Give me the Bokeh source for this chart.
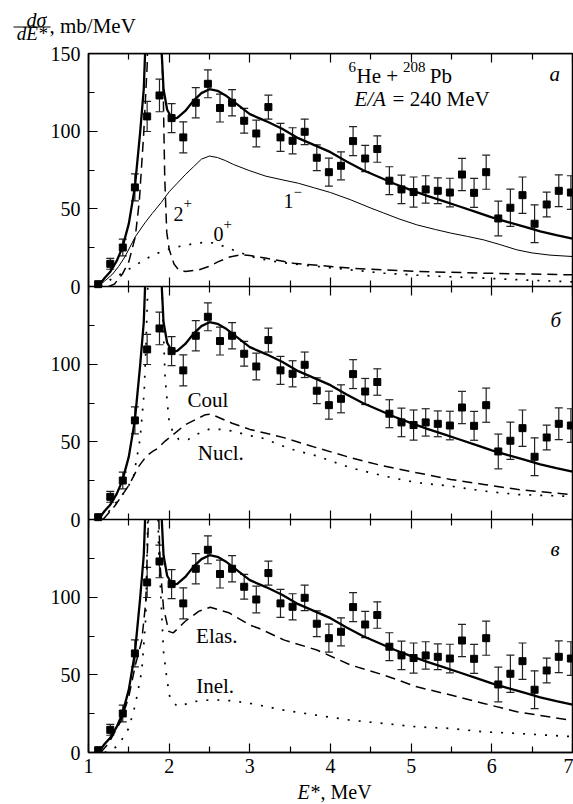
import math

from bokeh.plotting import figure
from bokeh.layouts import column
from bokeh.models import (Range1d, LinearAxis, FixedTicker, Label, ColumnDataSource,
                          Whisker, TeeHead)
from bokeh.core.properties import value
from bokeh.embed import file_html
from bokeh.resources import INLINE

FONT = "Liberation Serif"

# ---- measured cross section (identical in all three panels) ----
energy = [1.12, 1.27, 1.425, 1.575, 1.727, 1.88, 2.03, 2.175, 2.33, 2.48,
          2.63, 2.78, 2.93, 3.08, 3.23, 3.38, 3.53, 3.68, 3.83, 3.98,
          4.13, 4.28, 4.43, 4.58, 4.73, 4.88, 5.03, 5.18, 5.33, 5.48,
          5.63, 5.78, 5.93, 6.08, 6.23, 6.38, 6.53, 6.68, 6.83, 6.98]
xsec = [1.5, 14.6, 25.1, 63.8, 109.5, 123.0, 108.4, 96.0, 118.3, 130.5,
        114.9, 118.3, 106.7, 98.5, 115.5, 96.0, 93.8, 99.6, 82.9, 73.6,
        77.7, 93.6, 82.4, 88.5, 68.1, 62.5, 60.8, 62.5, 61.6, 60.5,
        72.1, 60.3, 73.6, 43.8, 50.7, 58.8, 40.4, 52.8, 61.6, 60.5]
xsec_err = [1.0, 3.5, 5.4, 8.7, 9.7, 10.5, 9.3, 10.0, 9.7, 9.0,
            9.0, 8.5, 8.0, 8.6, 7.7, 9.0, 8.4, 8.2, 8.3, 9.0,
            9.0, 9.3, 8.4, 8.5, 9.0, 9.2, 9.7, 8.8, 8.3, 9.2,
            10.4, 9.3, 11.0, 11.2, 12.0, 11.7, 12.2, 8.0, 10.2, 10.8]

# ---- total calculation (thick solid, all panels) ----
total_e = [1.12, 1.20, 1.27, 1.35, 1.42, 1.50, 1.575, 1.64, 1.685, 1.70, 1.75, 1.80,
           1.86, 1.91, 1.93, 1.975, 2.04, 2.10, 2.20, 2.30, 2.40, 2.50, 2.60, 2.70,
           2.80, 2.90, 3.00, 3.20, 3.40, 3.60, 3.80, 4.00, 4.20, 4.40, 4.60, 4.80,
           5.00, 5.20, 5.40, 5.60, 5.80, 6.00, 6.20, 6.40, 6.60, 6.80, 7.00]
total_y = [0.0, 5.5, 9.5, 16.5, 25.0, 40.5, 64.0, 99.0, 127.0, 148.0, 260.0, 420.0,
           260.0, 148.0, 127.0, 113.8, 108.0, 108.5, 113.0, 119.5, 124.5, 127.0, 126.0, 123.0,
           119.0, 115.0, 111.0, 106.5, 101.5, 95.5, 91.0, 86.5, 80.5, 75.0, 70.5, 66.0,
           62.0, 58.3, 55.0, 51.5, 48.0, 44.5, 41.5, 38.5, 35.5, 33.0, 30.8]

# ---- panel a: multipole components ----
m1_e = [1.12, 1.20, 1.30, 1.375, 1.45, 1.58, 1.70, 1.79, 1.90, 2.00, 2.10, 2.20, 2.30,
        2.40, 2.50, 2.60, 2.70, 2.80, 3.00, 3.20, 3.40, 3.60, 3.80, 4.00, 4.25, 4.50,
        4.66, 4.85, 5.07, 5.30, 5.49, 5.70, 5.90, 6.10, 6.31, 6.50, 6.72, 7.00]
m1_y = [0.0, 3.5, 8.0, 13.0, 19.0, 32.0, 41.0, 47.0, 54.0, 61.0, 66.5, 72.0, 77.0,
        82.0, 84.0, 83.0, 81.0, 78.5, 74.5, 71.0, 68.7, 66.5, 63.5, 60.5, 55.8, 50.5,
        47.3, 43.5, 39.7, 36.7, 34.4, 32.2, 30.0, 27.0, 23.6, 21.6, 20.2, 19.3]

p2_e = [1.25, 1.32, 1.42, 1.50, 1.58, 1.63, 1.685, 1.727, 1.75, 1.81, 1.87, 1.90, 1.925,
        1.945, 1.97, 2.00, 2.06, 2.12, 2.20, 2.37, 2.50, 2.61, 2.75, 2.90, 3.00, 3.19,
        3.54, 4.25, 5.07, 5.90, 7.00]
p2_y = [0.0, 1.5, 8.0, 16.0, 32.0, 55.0, 99.0, 142.0, 200.0, 420.0, 220.0, 155.0, 130.0,
        70.0, 35.0, 24.0, 14.5, 10.5, 9.7, 10.7, 13.0, 16.0, 19.0, 20.5, 20.0, 18.3,
        15.0, 11.8, 9.7, 8.6, 7.5]

p0_e = [1.15, 1.27, 1.40, 1.56, 1.73, 1.86, 1.97, 2.10, 2.30, 2.45, 2.55, 2.70, 2.80,
        2.90, 3.00, 3.25, 3.54, 4.25, 4.66, 5.07, 5.50, 5.90, 6.40, 6.90, 7.00]
p0_y = [0.0, 4.3, 8.0, 13.0, 18.3, 21.5, 23.6, 25.5, 27.5, 28.5, 28.0, 25.5, 23.3,
        21.5, 19.5, 16.5, 14.5, 10.7, 8.6, 7.3, 6.2, 5.4, 4.2, 3.2, 3.0]

# ---- panel b: Coulomb / nuclear ----
coul_e = [1.15, 1.25, 1.375, 1.48, 1.56, 1.64, 1.69, 1.71, 1.735, 1.76, 1.81, 1.86,
          1.91, 1.93, 1.95, 1.995, 2.04, 2.12, 2.24, 2.35, 2.49, 2.65, 2.78, 3.00,
          3.15, 3.50, 3.83, 4.25, 4.66, 5.07, 5.49, 5.90, 6.31, 6.93, 7.00]
coul_y = [0.0, 5.0, 13.0, 20.0, 28.0, 52.0, 82.0, 108.0, 150.0, 220.0, 420.0, 230.0,
          150.0, 119.0, 91.0, 65.0, 57.0, 51.5, 51.6, 55.0, 58.0, 58.0, 57.0, 54.0,
          52.5, 45.5, 40.9, 33.3, 28.0, 23.7, 21.5, 18.3, 16.1, 15.0, 14.8]

nucl_e = [1.18, 1.33, 1.50, 1.62, 1.72, 1.80, 1.85, 1.95, 2.20, 2.45, 2.52, 2.78,
          3.00, 3.20, 3.42, 3.83, 4.25, 4.66, 5.07, 5.49, 5.90, 6.31, 7.00]
nucl_y = [0.0, 9.0, 22.0, 34.0, 41.0, 44.0, 45.5, 50.5, 61.0, 67.5, 67.8, 62.0,
          58.0, 55.5, 52.7, 46.2, 39.8, 34.4, 30.1, 25.8, 22.6, 19.4, 16.0]

# ---- panel c: elastic / inelastic ----
elas_e = [1.15, 1.25, 1.40, 1.50, 1.58, 1.66, 1.71, 1.73, 1.75, 1.81, 1.86, 1.89,
          1.93, 1.995, 2.05, 2.20, 2.37, 2.51, 2.74, 3.00, 3.11, 3.42, 3.83, 4.25,
          4.66, 5.07, 5.49, 5.90, 6.31, 7.00]
elas_y = [0.0, 6.0, 20.0, 36.0, 56.0, 72.0, 97.0, 130.0, 160.0, 420.0, 170.0, 119.0,
          93.0, 78.0, 77.0, 84.5, 91.0, 93.5, 90.0, 82.0, 80.0, 72.5, 66.0, 56.3,
          49.9, 42.3, 37.0, 31.6, 26.2, 20.6]

inel_e = [1.20, 1.30, 1.375, 1.50, 1.58, 1.66, 1.71, 1.735, 1.77, 1.81, 1.84, 1.87,
          1.91, 1.93, 1.97, 2.01, 2.10, 2.33, 2.53, 2.78, 3.00, 3.42, 3.83, 4.25,
          4.66, 5.07, 5.49, 5.90, 6.31, 6.90, 7.00]
inel_y = [0.0, 2.0, 5.0, 15.7, 30.7, 52.3, 86.6, 150.0, 250.0, 420.0, 220.0, 130.0,
          86.6, 65.0, 48.0, 35.0, 29.7, 32.9, 34.0, 33.3, 31.7, 27.3, 24.0, 20.8,
          18.7, 16.5, 15.5, 13.3, 12.3, 10.5, 10.2]

x_ticks = [1, 2, 3, 4, 5, 6, 7]
x_minor = [1.5, 2.5, 3.5, 4.5, 5.5, 6.5]
panel_ticks = [0, 50, 100]
panel_minor = [25, 75, 125]
PANEL_SPAN = 150.0          # each panel shows 0..150 mb/MeV

W = 573
LEFT, RIGHT = 88, 1
HEAD_H, TOP_B, FRAME_H, BOT_B, FOOT_H = 44, 9, 699, 30, 22


def clip_above(xs, ys, top=PANEL_SPAN):
    """Cut a polyline where it leaves its panel through the top edge."""
    ox, oy = [], []
    for i, (x, y) in enumerate(zip(xs, ys)):
        if i > 0:
            x0, y0 = xs[i - 1], ys[i - 1]
            if (y0 <= top) != (y <= top):
                t = (top - y0) / (y - y0)
                ox.append(x0 + t * (x - x0))
                oy.append(top)
                if y > top:
                    ox.append(math.nan)
                    oy.append(math.nan)
        if y <= top:
            ox.append(x)
            oy.append(y)
    return ox, oy


def bare(width, height, x_range, y_range, left=0, right=0):
    f = figure(width=width, height=height, x_range=x_range, y_range=y_range,
               x_axis_type=None, y_axis_type=None, output_backend="svg",
               toolbar_location=None, title=None, min_border_top=0, min_border_bottom=0,
               min_border_left=left, min_border_right=right)
    f.frame_align = False
    f.outline_line_color = None
    f.background_fill_color = "white"
    f.border_fill_color = "white"
    return f


# ---- main canvas: three stacked panels sharing the energy axis ----
p = figure(width=W, height=TOP_B + FRAME_H + BOT_B, x_range=Range1d(1, 7),
           y_range=Range1d(0, 3 * PANEL_SPAN), title=None,
           x_axis_type=None, y_axis_type=None, output_backend="svg",
           toolbar_location=None, min_border_left=LEFT, min_border_right=RIGHT,
           min_border_top=TOP_B, min_border_bottom=BOT_B)
p.frame_align = False
# panel a on top, panel b in the middle, panel c uses the default range at the bottom
p.extra_y_ranges = {"a": Range1d(-2 * PANEL_SPAN, PANEL_SPAN),
                    "b": Range1d(-PANEL_SPAN, 2 * PANEL_SPAN)}
p.outline_line_color = "black"
p.outline_line_width = 1.5
p.background_fill_color = "white"
p.border_fill_color = "white"

THICK = dict(line_color="black", line_width=2.3)
THIN = dict(line_color="black", line_width=1.0)
DASH = dict(line_color="black", line_width=1.5, line_dash="10 6")
DOT = dict(line_color="black", line_width=1.7, line_dash="2 9")

panels = {
    "a": [(m1_e, m1_y, THIN), (p2_e, p2_y, DASH), (p0_e, p0_y, DOT)],
    "b": [(coul_e, coul_y, DOT), (nucl_e, nucl_y, DASH)],
    "default": [(elas_e, elas_y, DASH), (inel_e, inel_y, DOT)],
}

err_lo = [v - e for v, e in zip(xsec, xsec_err)]
err_hi = [v + e for v, e in zip(xsec, xsec_err)]

for rng, curves in panels.items():
    for xs, ys, style in curves + [(total_e, total_y, THICK)]:
        cx, cy = clip_above(xs, ys)
        p.line(cx, cy, y_range_name=rng, **style)
    src = ColumnDataSource(dict(x=energy, y=xsec, lo=err_lo, hi=err_hi))
    p.add_layout(Whisker(source=src, base="x", lower="lo", upper="hi", dimension="height",
                         y_range_name=rng, line_color="#222222", line_width=1.2,
                         upper_head=TeeHead(size=8, line_color="#222222", line_width=1.2),
                         lower_head=TeeHead(size=8, line_color="#222222", line_width=1.2)))
    p.scatter("x", "y", source=src, marker="square", size=7, color="black",
              y_range_name=rng)

# ---- axes ----
tick_style = dict(axis_line_color="black", axis_line_width=1.5,
                  major_tick_line_color="black", minor_tick_line_color="black",
                  major_tick_line_width=1.2, minor_tick_line_width=1.2)

# one vertical axis: every panel repeats 0, 50, 100 and the top one ends with 150
y_major, y_minor, y_names = [], [], {}
for k in range(3):
    base = k * PANEL_SPAN
    for t in panel_ticks:
        y_major.append(base + t)
        y_names[base + t] = str(t)
    y_minor += [base + t for t in panel_minor]
y_major.append(3 * PANEL_SPAN)
y_names[3 * PANEL_SPAN] = str(int(PANEL_SPAN))
p.add_layout(LinearAxis(ticker=FixedTicker(ticks=y_major, minor_ticks=y_minor),
                        major_label_overrides=y_names,
                        major_tick_in=9, major_tick_out=0, minor_tick_in=6, minor_tick_out=0,
                        major_label_standoff=8, major_label_text_font=FONT,
                        major_label_text_font_size="20px", major_label_text_color="black",
                        **tick_style), "left")

xt = FixedTicker(ticks=x_ticks, minor_ticks=x_minor)
# ticks along the panel borders, pointing into both neighbouring panels
for rng in ("a", "b"):
    p.add_layout(LinearAxis(y_range_name=rng, fixed_location=0.0, ticker=xt,
                            major_tick_in=9, major_tick_out=9, minor_tick_in=6,
                            minor_tick_out=6, major_label_text_color=None, **tick_style),
                 "below")
p.add_layout(LinearAxis(y_range_name="a", fixed_location=PANEL_SPAN, ticker=xt,
                        major_tick_in=9, major_tick_out=0, minor_tick_in=6, minor_tick_out=0,
                        major_label_text_color=None, **tick_style), "above")
p.add_layout(LinearAxis(ticker=xt, major_tick_in=9, major_tick_out=0, minor_tick_in=6,
                        minor_tick_out=0, major_label_standoff=6, major_label_text_font=FONT,
                        major_label_text_font_size="20px", major_label_text_color="black",
                        **tick_style), "below")


def text(x, y, s, rng="a", size=21, style="normal", align="left"):
    p.add_layout(Label(x=x, y=y, text=s, y_range_name=rng, text_font=FONT,
                       text_font_size=f"{size}px", text_font_style=style,
                       text_align=align, text_baseline="alphabetic", text_color="black"))


# panel a annotations
text(4.223, 141.5, "6", size=15)
text(4.322, 135.7, "He +", size=21)
text(4.90, 141.5, "208", size=15)
text(5.23, 135.7, "Pb", size=21)
text(4.297, 120.9, "E/A", size=21, style="italic")
text(4.77, 120.9, "= 240 MeV", size=21)
text(6.715, 137.0, "а", size=21, style="italic")
text(2.054, 46.8, "2", size=20)
text(2.178, 53.9, "+", size=15)
text(2.55, 34.0, "0", size=20)
text(2.674, 40.4, "+", size=15)
text(3.417, 55.2, "1", size=20)
text(3.54, 60.9, "−", size=15)

# panel b annotations
text(6.727, 128.2, "б", rng="b", size=21, style="italic")
text(2.48, 76.7, "Coul", rng="b", size=21, align="center")
text(2.64, 42.5, "Nucl.", rng="b", size=21, align="center")

# panel c annotations
text(6.727, 130.9, "в", rng="default", size=21, style="italic")
text(2.59, 74.9, "Elas.", rng="default", size=21, align="center")
text(2.57, 42.7, "Inel.", rng="default", size=21, align="center")

# ---- header strip: vertical-axis title dσ/dE*, mb/MeV ----
head = bare(W, HEAD_H, Range1d(0, W), Range1d(0, HEAD_H))
head.text(x=[36], y=[25], text=["dσ"], text_font=value(FONT), text_font_size="20px",
          text_font_style="italic", text_align="center", text_baseline="alphabetic",
          text_color="black")
head.line(x=[13, 50], y=[17.5, 17.5], line_color="black", line_width=1.1)
head.text(x=[31.5], y=[11], text=["dE*"], text_font=value(FONT), text_font_size="19px",
          text_font_style="italic", text_align="center", text_baseline="alphabetic",
          text_color="black")
head.text(x=[49], y=[19], text=[", mb/MeV"], text_font=value(FONT), text_font_size="21px",
          text_align="left", text_baseline="alphabetic", text_color="black")

# ---- footer strip: horizontal-axis title E*, MeV ----
foot = bare(W, FOOT_H, Range1d(1, 7), Range1d(0, FOOT_H), left=LEFT, right=RIGHT)
foot.text(x=[3.59], y=[13], text=["E"], text_font=value(FONT), text_font_size="20px",
          text_font_style="italic", text_align="left", text_baseline="alphabetic",
          text_color="black")
foot.text(x=[3.752], y=[13], text=["*, MeV"], text_font=value(FONT), text_font_size="20px",
          text_align="left", text_baseline="alphabetic", text_color="black")

layout = column(head, p, foot, spacing=0)
open("out.html", "w").write(file_html(layout, INLINE))
